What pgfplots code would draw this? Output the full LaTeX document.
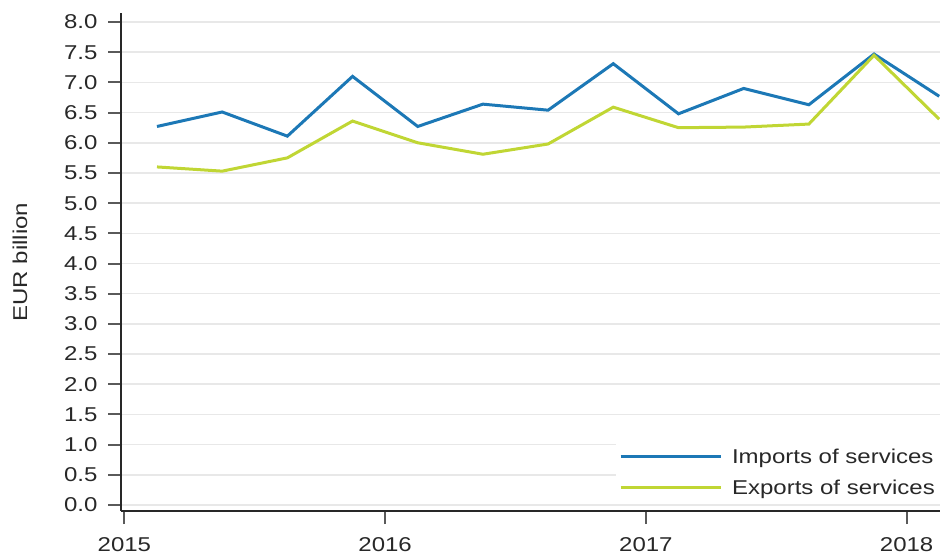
\documentclass[border=0pt]{standalone}
\usepackage{fontspec}
\setmainfont{Liberation Sans}[FakeStretch=1.2]
\usepackage{pgfplots}
\pgfplotsset{compat=1.18}
\definecolor{impc}{RGB}{28,120,182}
\definecolor{expc}{RGB}{192,214,52}
\definecolor{gridc}{RGB}{232,232,232}
\definecolor{axc}{RGB}{40,40,40}
\definecolor{tickc}{RGB}{90,90,90}
\definecolor{txtc}{RGB}{40,40,40}
\begin{document}
\begin{tikzpicture}[font=\fontsize{20}{24}\selectfont]
\begin{axis}[
  at={(121pt,47pt)}, anchor=south west,
  scale only axis, width=819pt, height=498pt,
  xmin=2014.987, xmax=2018.128, ymin=-0.1, ymax=8.15,
  axis x line*=bottom, axis y line*=left,
  axis line style={axc, line width=1.5pt, -},
  xtick={2015,2016,2017,2018},
  ytick={0,0.5,1,1.5,2,2.5,3,3.5,4,4.5,5,5.5,6,6.5,7,7.5,8},
  yticklabel style={/pgf/number format/.cd, fixed, fixed zerofill, precision=1, /tikz/.cd, xshift=-7pt},
  xticklabel style={/pgf/number format/1000 sep={}, yshift=-10pt},
  /pgf/number format/assume math mode=true,
  tick label style={txtc},
  tick align=outside,
  major tick length=13pt,
  tick style={tickc, line width=2pt},
  ymajorgrids, grid style={gridc, line width=1.5pt},
  ylabel={EUR billion},
  ylabel style={at={(rel axis cs:0,0.5)}, yshift=101pt, anchor=center, txtc},
  legend style={at={(rel axis cs:1,0)}, anchor=south east, yshift=10pt, draw=none, fill=white, inner sep=3pt, row sep=11pt, text=txtc,
    /tikz/every odd column/.append style={column sep=8pt}},
  legend cell align=left,
  legend image code/.code={\draw[#1] (0pt,0pt) -- (100pt,0pt);},
  clip=true,
]
\addplot[impc, line width=3pt] coordinates {
(2015.125,6.27) (2015.375,6.51) (2015.625,6.11) (2015.875,7.10)
(2016.125,6.27) (2016.375,6.64) (2016.625,6.54) (2016.875,7.31)
(2017.125,6.48) (2017.375,6.90) (2017.625,6.63) (2017.875,7.47)
(2018.125,6.77)};
\addlegendentry{Imports of services}
\addplot[expc, line width=3pt] coordinates {
(2015.125,5.60) (2015.375,5.53) (2015.625,5.75) (2015.875,6.36)
(2016.125,6.00) (2016.375,5.81) (2016.625,5.98) (2016.875,6.59)
(2017.125,6.25) (2017.375,6.26) (2017.625,6.31) (2017.875,7.45)
(2018.125,6.39)};
\addlegendentry{Exports of services}
\end{axis}
\pgfresetboundingbox
\path (0,0) rectangle (940pt,558pt);
\end{tikzpicture}
\end{document}
